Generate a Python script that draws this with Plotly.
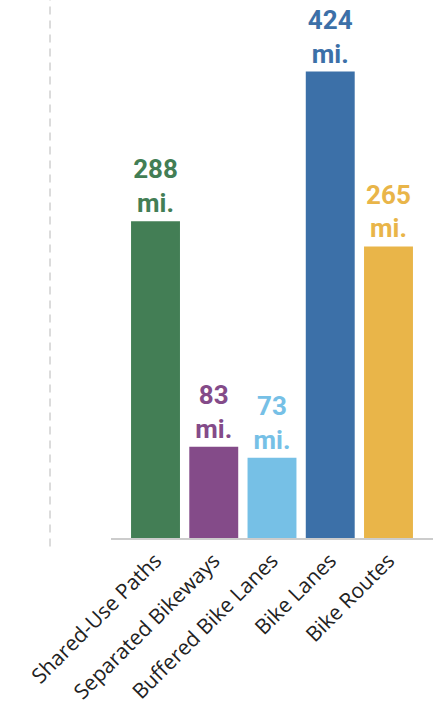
import plotly.graph_objects as go

categories = ["Shared-Use Paths", "Separated Bikeways", "Buffered Bike Lanes", "Bike Lanes", "Bike Routes"]
miles = [288, 83, 73, 424, 265]
colors = ["#437E55", "#844B89", "#76C0E6", "#3C70A8", "#E9B549"]
labels = [f"{v}<br>mi." for v in miles]

fig = go.Figure()
fig.add_trace(go.Bar(
    x=categories, y=miles, width=0.84,
    marker=dict(color=colors, line=dict(width=0)),
    text=labels, textposition="outside", cliponaxis=False,
    textfont=dict(family="Roboto", size=26, color=colors, weight="bold"),
    hoverinfo="skip",
))

fig.add_shape(type="line", xref="paper", yref="paper",
              x0=-0.1894, x1=-0.1894, y0=-0.016, y1=1,
              line=dict(color="#d0d0d0", width=1.5, dash="8px,6px"))

fig.update_layout(
    width=433, height=708,
    margin=dict(l=111, r=0, t=0, b=170, autoexpand=False),
    paper_bgcolor="white", plot_bgcolor="white",
    showlegend=False,
    uniformtext=dict(mode=False),
    xaxis=dict(range=[-0.764, 4.764], showline=True, linecolor="#cccccc", linewidth=2,
               showgrid=False, ticks="", tickangle=-45, automargin=False,
               tickfont=dict(family="Open Sans", size=21, color="#222222")),
    yaxis=dict(range=[0, 489], visible=False, showgrid=False, zeroline=False, automargin=False),
)
fig.write_html("out.html")
